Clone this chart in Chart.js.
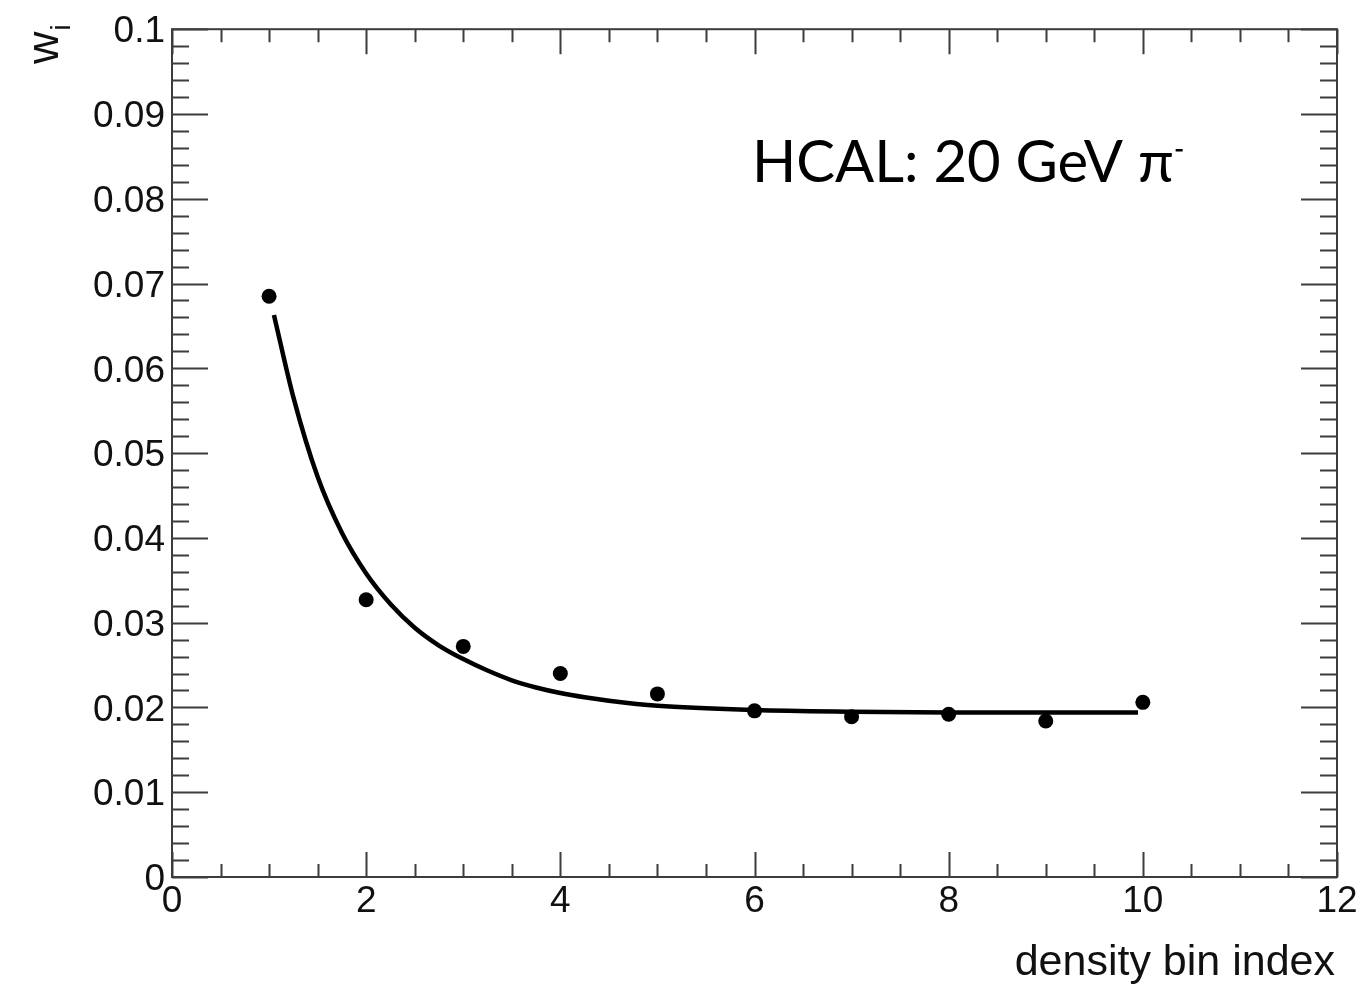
<!DOCTYPE html>
<html>
<head>
<meta charset="utf-8">
<title>w_i vs density bin index</title>
<style>
  html, body { margin: 0; padding: 0; background: #fff; }
  #wrap { width: 1364px; height: 986px; }
</style>
<script src="https://cdn.jsdelivr.net/npm/chart.js@4"></script>
</head>
<body>
<div id="wrap"><canvas id="chart" width="1364" height="986"></canvas></div>
<script>
// measured points (density bin index, weight)
var binIndex = [1, 2, 3, 4, 5, 6, 7, 8, 9, 10];
var weights  = [0.0685, 0.0327, 0.0272, 0.0240, 0.0216, 0.0196, 0.0189, 0.0192, 0.0184, 0.0206];

// fitted curve
var fitX = [1.05, 1.25, 1.5, 1.75, 2.0, 2.25, 2.5, 2.75, 3.0, 3.25, 3.5, 3.75, 4.0, 4.25, 4.5, 5.0, 6.0, 7.0, 8.0, 9.0, 9.95];
var fitY = [0.0663, 0.0566, 0.0472, 0.0406, 0.0358, 0.0322, 0.0294, 0.0273, 0.0257, 0.02435, 0.0232, 0.02235, 0.0217, 0.0212, 0.0208, 0.0202, 0.0197, 0.0195, 0.0194, 0.0194, 0.0194];

// axis ticks
var xTickLabels = ['0', '2', '4', '6', '8', '10', '12'];
var yTickLabels = ['0', '0.01', '0.02', '0.03', '0.04', '0.05', '0.06', '0.07', '0.08', '0.09', '0.1'];

var labelFont = '"Liberation Sans", Arial, Helvetica, sans-serif';
var frameColor = '#3c3c3c';

// ROOT style frame with ticks drawn inside on all four sides
var rootFrame = {
    id: 'rootFrame',
    afterDatasetsDraw: function (chart) {
        var ctx = chart.ctx, a = chart.chartArea;
        var xs = chart.scales.x, ys = chart.scales.y;
        ctx.save();
        ctx.strokeStyle = frameColor;
        ctx.lineWidth = 2;
        ctx.strokeRect(a.left, a.top, a.right - a.left, a.bottom - a.top);
        ctx.beginPath();
        // x ticks: major every 2, minor every 0.5
        for (var i = 0; i <= 24; i++) {
            var v = i * 0.5;
            var px = Math.round(xs.getPixelForValue(v)) + 0.5;
            var len = (i % 4 === 0) ? 25 : 13;
            ctx.moveTo(px, a.bottom); ctx.lineTo(px, a.bottom - len);
            ctx.moveTo(px, a.top); ctx.lineTo(px, a.top + len);
        }
        // y ticks: major every 0.01, minor every 0.002
        for (var j = 0; j <= 50; j++) {
            var w = j * 0.002;
            var py = Math.round(ys.getPixelForValue(w)) + 0.5;
            var l2 = (j % 5 === 0) ? 36 : 17;
            ctx.moveTo(a.left, py); ctx.lineTo(a.left + l2, py);
            ctx.moveTo(a.right, py); ctx.lineTo(a.right - l2, py);
        }
        ctx.stroke();
        ctx.restore();
    }
};

// axis titles and the text label
var textLayer = {
    id: 'textLayer',
    afterDraw: function (chart) {
        var ctx = chart.ctx, a = chart.chartArea;
        ctx.save();
        ctx.fillStyle = '#111';

        // x title, right aligned
        ctx.font = '43px ' + labelFont;
        ctx.textAlign = 'right';
        ctx.textBaseline = 'alphabetic';
        ctx.fillText('density bin index', a.right - 2, 975);

        // y title w_i, rotated
        ctx.save();
        ctx.translate(58, 64);
        ctx.rotate(-Math.PI / 2);
        ctx.textAlign = 'left';
        ctx.font = '45px ' + labelFont;
        ctx.fillText('w', 0, 0);
        var ww = ctx.measureText('w').width;
        ctx.font = '28px ' + labelFont;
        ctx.fillText('i', ww + 1, 12);
        ctx.restore();

        // annotation
        ctx.font = '58px Lato, "Open Sans", sans-serif';
        ctx.textAlign = 'left';
        ctx.fillStyle = '#000';
        var txt = 'HCAL: 20 GeV \u03c0';
        ctx.fillText(txt, 752, 182);
        var tw = ctx.measureText(txt).width;
        ctx.fillRect(752 + tw + 2, 149, 7, 2.5);
        ctx.restore();
    }
};

var fitData = fitX.map(function (x, i) { return { x: x, y: fitY[i] }; });
var pointData = binIndex.map(function (x, i) { return { x: x, y: weights[i] }; });

new Chart(document.getElementById('chart').getContext('2d'), {
    type: 'scatter',
    data: {
        datasets: [{
            label: 'points',
            data: pointData,
            pointRadius: 7.5,
            pointBackgroundColor: '#000',
            pointBorderWidth: 0,
            showLine: false,
            order: 1
        }, {
            label: 'fit',
            data: fitData,
            showLine: true,
            borderColor: '#000',
            borderWidth: 4.5,
            borderCapStyle: 'butt',
            pointRadius: 0,
            cubicInterpolationMode: 'monotone',
            fill: false,
            order: 2
        }]
    },
    plugins: [rootFrame, textLayer],
    options: {
        responsive: false,
        animation: false,
        devicePixelRatio: 1,
        layout: { padding: { left: 0, top: 27, right: 27, bottom: 0 } },
        plugins: {
            legend: { display: false },
            tooltip: { enabled: false }
        },
        scales: {
            x: {
                type: 'linear',
                min: 0,
                max: 12,
                grid: { display: false, drawTicks: false },
                border: { display: false },
                ticks: {
                    stepSize: 2,
                    padding: 3,
                    color: '#111',
                    font: { family: labelFont, size: 37 },
                    maxRotation: 0,
                    callback: function (v, i) { return xTickLabels[i]; }
                },
                afterFit: function (s) { s.height = 109; }
            },
            y: {
                type: 'linear',
                min: 0,
                max: 0.1,
                grid: { display: false, drawTicks: false },
                border: { display: false },
                ticks: {
                    stepSize: 0.01,
                    padding: 7,
                    labelOffset: 3,
                    color: '#111',
                    font: { family: labelFont, size: 37 },
                    callback: function (v, i) { return yTickLabels[i]; }
                },
                afterFit: function (s) { s.width = 172; }
            }
        }
    }
});
</script>
</body>
</html>
